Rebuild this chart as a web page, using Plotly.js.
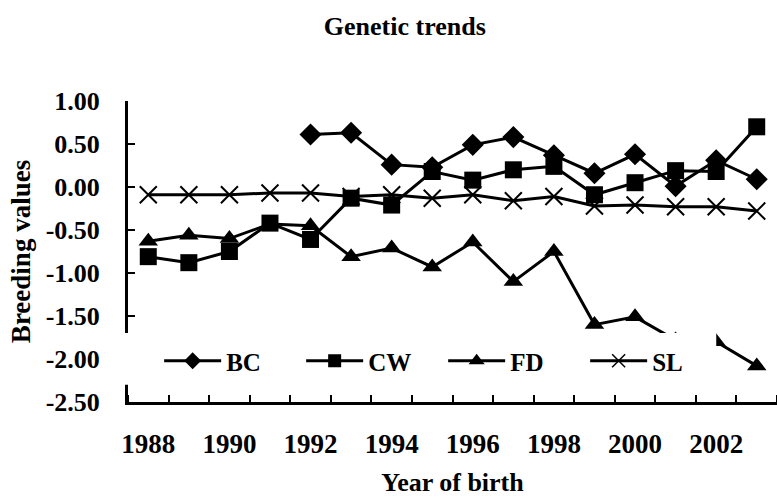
<!DOCTYPE html>
<html>
<head>
<meta charset="utf-8">
<script src="https://cdn.plot.ly/plotly-3.0.1.min.js"></script>
<style>html,body{margin:0;padding:0;background:#fff;}#chart{width:777px;height:497px;}</style>
</head>
<body>
<div id="chart"></div>
<script>
const years = [1988,1989,1990,1991,1992,1993,1994,1995,1996,1997,1998,1999,2000,2001,2002,2003];
const bcValues = [null,null,null,null,0.61,0.63,0.26,0.23,0.49,0.58,0.37,0.16,0.38,0.01,0.31,0.09];
const cwValues = [-0.81,-0.88,-0.75,-0.42,-0.61,-0.13,-0.21,0.18,0.08,0.20,0.24,-0.09,0.05,0.19,0.18,0.70];
const fdValues = [-0.63,-0.56,-0.60,-0.43,-0.45,-0.81,-0.71,-0.93,-0.64,-1.10,-0.75,-1.60,-1.51,-1.78,-1.80,-2.08];
const slValues = [-0.09,-0.09,-0.09,-0.07,-0.07,-0.11,-0.09,-0.13,-0.09,-0.16,-0.11,-0.22,-0.21,-0.23,-0.23,-0.28];
const seriesNames = ['BC','CW','FD','SL'];
const xTickVals = [1988,1990,1992,1994,1996,1998,2000,2002];
const xTickText = ['1988','1990','1992','1994','1996','1998','2000','2002'];
const yTickVals = [1,0.5,0,-0.5,-1,-1.5,-2,-2.5];
const yTickText = ['1.00','0.50','0.00','-0.50','-1.00','-1.50','-2.00','-2.50'];

const FONT = 'Liberation Serif, Times New Roman, serif';
const markerStyles = [
  {symbol:'diamond', size:17, color:'black'},
  {symbol:'square', size:17, color:'black'},
  {symbol:'triangle-up', size:17, color:'black'},
  {symbol:'x-thin', size:17, color:'black', line:{color:'black', width:2}}
];
const legendMarkers = [
  {symbol:'diamond', size:13, color:'black'},
  {symbol:'square', size:13, color:'black'},
  {symbol:'triangle-up', size:14, color:'black'},
  {symbol:'x-thin', size:13, color:'black', line:{color:'black', width:1.5}}
];
const allValues = [bcValues, cwValues, fdValues, slValues];

const traces = [];
allValues.forEach((vals, i) => {
  traces.push({
    type:'scatter', mode:'lines+markers', x: years, y: vals, name: seriesNames[i],
    showlegend:false, connectgaps:false,
    line:{color:'black', width:3}, marker: markerStyles[i]
  });
});
allValues.forEach((vals, i) => {
  traces.push({
    type:'scatter', mode:'lines+markers', x:[null], y:[null], name: seriesNames[i],
    showlegend:true, line:{color:'black', width:3}, marker: legendMarkers[i]
  });
});

const layout = {
  width:777, height:497,
  margin:{l:128, r:0, t:101, b:95},
  paper_bgcolor:'white', plot_bgcolor:'white',
  font:{family:FONT, color:'black'},
  title:{text:'Genetic trends', font:{family:FONT, size:26, color:'black', weight:'bold'},
         xref:'container', x:0.521, xanchor:'center', yref:'container', y:0.948, yanchor:'middle'},
  xaxis:{
    range:[1987.5, 2003.5], tickmode:'array', tickvals:xTickVals, ticktext:xTickText,
    ticks:'', showline:true, linewidth:3, linecolor:'black', showgrid:false, zeroline:false,
    tickfont:{family:FONT, size:27, color:'black', weight:'bold'}, ticklabelstandoff:16,
    minor:{tickmode:'linear', tick0:1988.5, dtick:1, ticks:'inside', ticklen:7, tickwidth:2, tickcolor:'black', showgrid:false},
    title:{text:'Year of birth', font:{family:FONT, size:26, color:'black', weight:'bold'}, standoff:17}
  },
  yaxis:{
    range:[-2.5, 1.0], tickmode:'array', tickvals:yTickVals, ticktext:yTickText,
    ticks:'inside', ticklen:7, tickwidth:2, tickcolor:'black',
    showline:true, linewidth:3, linecolor:'black', showgrid:false, zeroline:false,
    tickfont:{family:FONT, size:26, color:'black', weight:'bold'}, ticklabelstandoff:20,
    title:{text:'Breeding values', font:{family:FONT, size:27, color:'black', weight:'bold'}, standoff:8}
  },
  legend:{
    orientation:'h', x:0.048, xanchor:'left', y:0.136, yanchor:'middle',
    bgcolor:'rgba(0,0,0,0)', font:{family:FONT, size:25, color:'black', weight:'bold'},
    itemwidth:57, entrywidth:70, entrywidthmode:'pixels'
  },
  shapes:[{
    type:'rect', xref:'paper', yref:'paper', x0:-0.02, x1:0.9064, y0:0.057, y1:0.229,
    fillcolor:'white', line:{width:0}, layer:'above'
  }]
};

Plotly.newPlot('chart', traces, layout, {displayModeBar:false, staticPlot:true});
</script>
</body>
</html>
